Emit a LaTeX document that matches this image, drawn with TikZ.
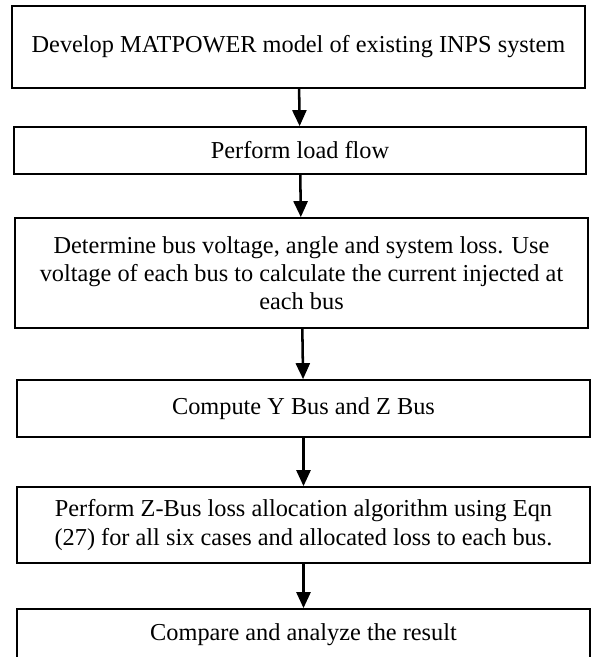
\documentclass[tikz,border=0pt]{standalone}
\usepackage{fontspec}
\setmainfont{Liberation Serif}
\usetikzlibrary{arrows.meta}

\begin{document}
\begin{tikzpicture}[
    font=\fontsize{17.3}{20}\selectfont,
    stage/.style={draw, line width=1.2pt, align=center, inner sep=0pt},
    flow/.style={line width=1.8pt, -{Triangle[length=4mm, width=3.5mm]}}
]
    % page frame (590 x 657 px, 40 px per cm)
    \useasboundingbox (0,0) rectangle (14.75,16.425);

    % stages, top to bottom
    \node[stage, minimum width=14.325cm, minimum height=2.05cm] (model) at (7.4625,15.25)
        {Develop MATPOWER model of existing INPS system};
    \node[stage, minimum width=14.3cm, minimum height=1.175cm] (loadflow) at (7.5,12.6625)
        {Perform load flow};
    \node[stage, minimum width=14.325cm, minimum height=2.75cm] (busdata) at (7.5375,9.6)
        {Determine bus voltage, angle and system loss. Use\\
         voltage of each bus to calculate the current injected at\\
         each bus};
    \node[stage, minimum width=14.325cm, minimum height=1.425cm] (ybus) at (7.5875,6.2125)
        {Compute Y Bus and Z Bus};
    \node[stage, minimum width=14.325cm, minimum height=1.9cm] (zbus) at (7.5875,3.3)
        {Perform Z-Bus loss allocation algorithm using Eqn\\
         (27) for all six cases and allocated loss to each bus.};
    \node[stage, minimum width=14.325cm, minimum height=1.3cm] (result) at (7.5875,0.55)
        {Compare and analyze the result};

    % flow arrows
    \draw[flow] (model) -- (loadflow);
    \draw[flow] (loadflow) -- (busdata);
    \draw[flow] (busdata) -- (ybus);
    \draw[flow] (ybus) -- (zbus);
    \draw[flow] (zbus) -- (result);
\end{tikzpicture}
\end{document}
